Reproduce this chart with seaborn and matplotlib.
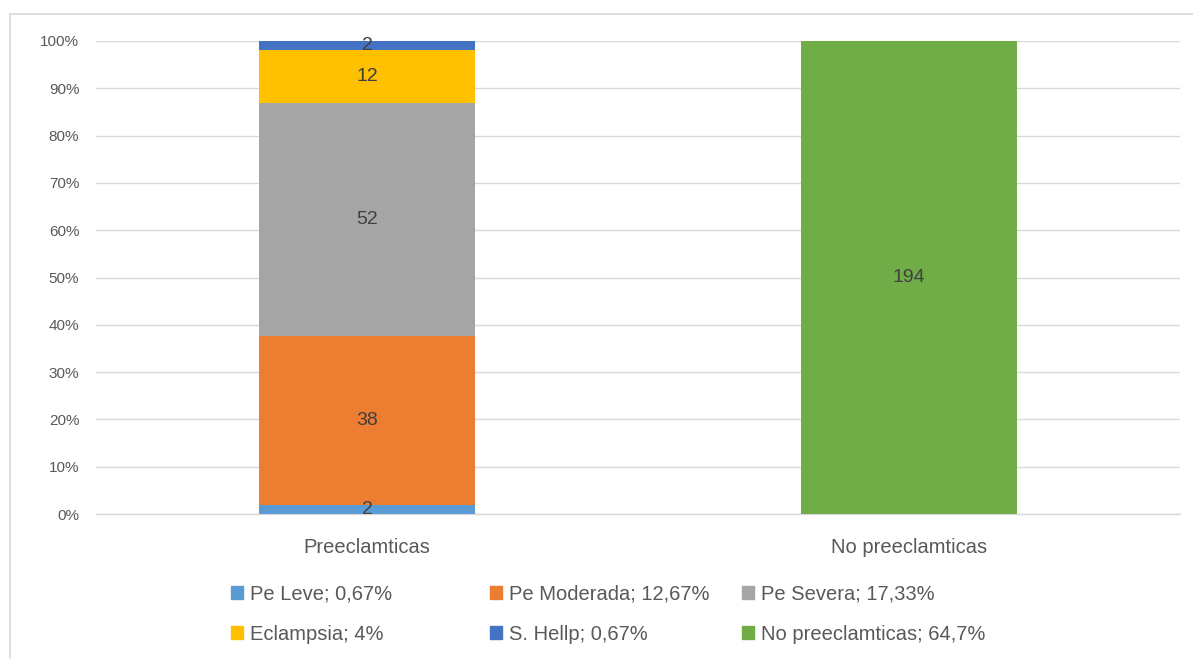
import matplotlib.pyplot as plt
import seaborn as sns
import pandas as pd
import numpy as np
from matplotlib.patches import Rectangle, Patch

# data
categories = ['Preeclamticas', 'No preeclamticas']
series = ['Pe Leve', 'Pe Moderada', 'Pe Severa', 'Eclampsia', 'S. Hellp', 'No preeclamticas']
legend_labels = ['Pe Leve; 0,67%', 'Pe Moderada; 12,67%', 'Pe Severa; 17,33%',
                 'Eclampsia; 4%', 'S. Hellp; 0,67%', 'No preeclamticas; 64,7%']
pre_counts = [2, 38, 52, 12, 2, 0]
no_counts = [0, 0, 0, 0, 0, 194]
colors = ['#5B9BD5', '#ED7D31', '#A5A5A5', '#FFC000', '#4472C4', '#70AD47']

sns.set_style('white')
plt.rcParams['font.family'] = ['Liberation Sans', 'DejaVu Sans']
txt = '#595959'

df = pd.DataFrame({'Preeclamticas': pre_counts, 'No preeclamticas': no_counts}, index=series)
pct = df / df.sum() * 100
cum = pct.cumsum()

fig = plt.figure(figsize=(11.93, 6.59), dpi=100)
fig.patches.append(Rectangle((10 / 1193, -0.1), 1.2, 1 - 14 / 659 + 0.1, transform=fig.transFigure,
                             fill=False, edgecolor='#D9D9D9', linewidth=1.2))
ax = fig.add_axes([96 / 1193, 1 - 514 / 659, (1180 - 96) / 1193, (514 - 41) / 659])

# draw from top of stack to bottom so each layer covers the rest
for i in range(len(series) - 1, -1, -1):
    d = pd.DataFrame({'cat': categories, 'val': cum.iloc[i][categories].values})
    sns.barplot(data=d, x='cat', y='val', color=colors[i], width=0.397, saturation=1,
                linewidth=0, ax=ax, zorder=3, order=categories)

# count labels
for j, c in enumerate(categories):
    for i, s in enumerate(series):
        n = df.loc[s, c]
        if n > 0:
            mid = cum.loc[s, c] - pct.loc[s, c] / 2
            ax.text(j, mid, str(n), ha='center', va='center', fontsize=14, color='#404040', zorder=5)

ax.set_ylim(0, 100)
ax.set_xlim(-0.5, 1.5)
ax.set_yticks(np.arange(0, 101, 10))
ax.set_yticklabels([f'{v}%' for v in range(0, 101, 10)], color=txt, fontsize=11)
ax.set_xticklabels(categories, color=txt, fontsize=14.5)
ax.tick_params(axis='y', length=0, pad=12)
ax.tick_params(axis='x', length=0, pad=17)
ax.grid(axis='y', color='#D9D9D9', linewidth=1, zorder=0)
ax.axhline(0, color='#D9D9D9', linewidth=1, zorder=1, clip_on=False)
ax.set_axisbelow(True)
for sp in ax.spines.values():
    sp.set_visible(False)
ax.set_xlabel('')
ax.set_ylabel('')

# legend: three columns placed at their own x positions
handles = [Patch(color=c) for c in colors]
col_x = [213, 472, 724]
for k in range(3):
    leg = fig.legend([handles[k], handles[k + 3]], [legend_labels[k], legend_labels[k + 3]],
                     loc='center left', bbox_to_anchor=(col_x[k] / 1193, 1 - 614 / 659),
                     frameon=False, fontsize=14.5, labelcolor=txt, handlelength=0.6,
                     handleheight=0.6, handletextpad=0.35, labelspacing=1.05)

fig.savefig('out.png', dpi=100)
